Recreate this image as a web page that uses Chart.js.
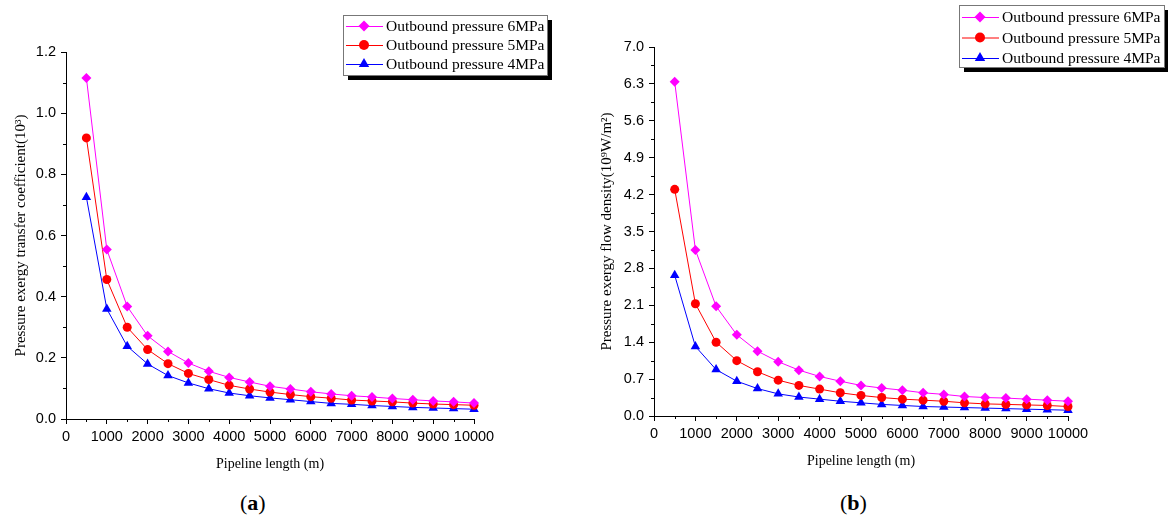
<!DOCTYPE html>
<html>
<head>
<meta charset="utf-8">
<script src="https://cdn.jsdelivr.net/npm/chart.js@4.4.1/dist/chart.umd.min.js"></script>
<style>
  body { margin: 0; background: #fff; width: 1168px; height: 525px; overflow: hidden; position: relative; }
  .panel { position: absolute; top: 0; width: 584px; height: 480px; }
  .cap { position: absolute; top: 490px; font: 22px "Liberation Serif", serif; color: #000; }
</style>
</head>
<body>
<div class="panel" style="left:0"><canvas id="chartA" width="584" height="480"></canvas></div>
<div class="panel" style="left:584px"><canvas id="chartB" width="584" height="480"></canvas></div>
<div class="cap" style="left:240px">(<b>a</b>)</div>
<div class="cap" style="left:840px">(<b>b</b>)</div>
<script>
// ---------------------------------------------------------------------
// DATA
// ---------------------------------------------------------------------
const LENGTHS = [500, 1000, 1500, 2000, 2500, 3000, 3500, 4000, 4500, 5000,
                 5500, 6000, 6500, 7000, 7500, 8000, 8500, 9000, 9500, 10000];

const SERIES = ['Outbound pressure 6MPa', 'Outbound pressure 5MPa', 'Outbound pressure 4MPa'];

// (a) pressure exergy transfer coefficient (10^3)
const COEF_6 = [1.115, 0.554, 0.368, 0.272, 0.221, 0.183, 0.156, 0.136, 0.121, 0.107,
                0.098, 0.089, 0.082, 0.076, 0.072, 0.067, 0.063, 0.059, 0.056, 0.052];
const COEF_5 = [0.919, 0.456, 0.300, 0.227, 0.181, 0.149, 0.129, 0.110, 0.098, 0.088,
                0.080, 0.073, 0.068, 0.062, 0.059, 0.056, 0.052, 0.049, 0.047, 0.045];
const COEF_4 = [0.725, 0.360, 0.238, 0.180, 0.142, 0.118, 0.099, 0.085, 0.076, 0.069,
                0.063, 0.057, 0.051, 0.048, 0.044, 0.041, 0.038, 0.036, 0.034, 0.032];

// (b) pressure exergy flow density (10^9 W/m^2)
const FLUX_6 = [6.34, 3.15, 2.08, 1.54, 1.23, 1.03, 0.87, 0.75, 0.66, 0.58,
                0.53, 0.49, 0.44, 0.41, 0.37, 0.35, 0.34, 0.32, 0.30, 0.28];
const FLUX_5 = [4.30, 2.13, 1.40, 1.05, 0.84, 0.68, 0.58, 0.51, 0.44, 0.39,
                0.35, 0.32, 0.30, 0.28, 0.25, 0.23, 0.22, 0.21, 0.20, 0.18];
const FLUX_4 = [2.67, 1.32, 0.88, 0.66, 0.52, 0.42, 0.36, 0.32, 0.28, 0.25,
                0.22, 0.20, 0.18, 0.17, 0.16, 0.15, 0.14, 0.13, 0.12, 0.11];

const TICKS_X  = [0, 1000, 2000, 3000, 4000, 5000, 6000, 7000, 8000, 9000, 10000];
const TICKS_YA = [0, 0.2, 0.4, 0.6, 0.8, 1.0, 1.2];
const TICKS_YB = [0, 0.7, 1.4, 2.1, 2.8, 3.5, 4.2, 4.9, 5.6, 6.3, 7.0];

// ---------------------------------------------------------------------
// STILE
// ---------------------------------------------------------------------
const COLORS  = ['#ff00ff', '#ff0000', '#0000ff'];
const MARKERS = ['rectRot', 'circle', 'triangle'];
const RADII   = [5, 4.5, 5.5];
const TICK_FONT  = { family: 'Liberation Sans', size: 14.5 };
const XTITLE_FONT = { family: 'Liberation Serif', size: 14 };
const YTITLE_FONT = { family: 'Liberation Serif', size: 15 };

// marker disegnato a mano per la legenda
function marker(ctx, style, x, y, r) {
  ctx.beginPath();
  if (style === 'rectRot') {
    ctx.moveTo(x, y - r); ctx.lineTo(x + r, y); ctx.lineTo(x, y + r); ctx.lineTo(x - r, y);
  } else if (style === 'circle') {
    ctx.arc(x, y, r, 0, Math.PI * 2);
  } else {
    ctx.moveTo(x, y - r); ctx.lineTo(x + r * 0.866, y + r * 0.5); ctx.lineTo(x - r * 0.866, y + r * 0.5);
  }
  ctx.closePath();
  ctx.fill();
}

// tacche minori a metà fra le maggiori + legenda con ombra
const extras = {
  id: 'extras',
  afterDraw(chart, args, opts) {
    const ctx = chart.ctx;
    const xs = chart.scales.x, ys = chart.scales.y;
    const { bottom, left } = chart.chartArea;
    ctx.save();
    ctx.strokeStyle = '#000';
    ctx.lineWidth = 1;
    ctx.beginPath();
    for (let i = 0; i < opts.xTicks.length - 1; i++) {
      const px = Math.round(xs.getPixelForValue((opts.xTicks[i] + opts.xTicks[i + 1]) / 2)) + 0.5;
      ctx.moveTo(px, bottom); ctx.lineTo(px, bottom + 3);
    }
    for (let i = 0; i < opts.yTicks.length - 1; i++) {
      const py = Math.round(ys.getPixelForValue((opts.yTicks[i] + opts.yTicks[i + 1]) / 2)) + 0.5;
      ctx.moveTo(left, py); ctx.lineTo(left - 3, py);
    }
    ctx.stroke();

    // legenda
    const L = opts.legend;
    ctx.fillStyle = '#000';
    ctx.fillRect(L.x + 5, L.y + 5, L.w, L.h);
    ctx.fillStyle = '#fff';
    ctx.fillRect(L.x, L.y, L.w, L.h);
    ctx.strokeStyle = '#777';
    ctx.strokeRect(L.x + 0.5, L.y + 0.5, L.w, L.h);
    ctx.font = '15.5px "Liberation Serif"';
    ctx.textBaseline = 'middle';
    chart.data.datasets.forEach((ds, i) => {
      const cy = L.y + L.first + i * L.step;
      ctx.strokeStyle = ds.borderColor;
      ctx.beginPath();
      ctx.moveTo(L.x + 3, cy + 0.5); ctx.lineTo(L.x + 40, cy + 0.5);
      ctx.stroke();
      ctx.fillStyle = ds.pointBackgroundColor;
      marker(ctx, ds.pointStyle, L.x + 21, cy, ds.pointRadius + 0.5);
      ctx.fillStyle = '#000';
      ctx.fillText(ds.label, L.x + 43, cy + 1);
    });
    ctx.restore();
  }
};

function makeChart(id, series, yTicks, yTitle, cfg) {
  return new Chart(document.getElementById(id), {
    type: 'line',
    data: {
      datasets: series.map((vals, i) => ({
        label: SERIES[i],
        data: LENGTHS.map((x, k) => ({ x, y: vals[k] })),
        borderColor: COLORS[i],
        borderWidth: 1,
        pointStyle: MARKERS[i],
        pointRadius: RADII[i],
        pointBackgroundColor: COLORS[i],
        pointBorderWidth: 0,
        tension: 0,
        clip: false,
      }))
    },
    options: {
      responsive: false,
      animation: false,
      layout: { padding: { left: 0, right: cfg.right, top: cfg.top, bottom: 0 } },
      plugins: {
        legend: { display: false },
        tooltip: { enabled: false },
        extras: { xTicks: TICKS_X, yTicks: yTicks, legend: cfg.legend },
      },
      scales: {
        x: {
          type: 'linear', min: 0, max: 10000,
          afterBuildTicks: s => { s.ticks = TICKS_X.map(v => ({ value: v })); },
          afterFit: s => { s.height = cfg.xHeight; },
          grid: { drawOnChartArea: false, tickLength: 5, tickColor: '#000' },
          border: { color: '#000', width: 1 },
          ticks: { color: '#000', font: TICK_FONT, padding: 4, maxRotation: 0, autoSkip: false,
                   callback: v => String(v) },
          title: { display: true, text: 'Pipeline length (m)', color: '#000', font: XTITLE_FONT,
                   padding: { top: 0, bottom: cfg.xTitlePad } },
        },
        y: {
          min: 0, max: yTicks[yTicks.length - 1],
          afterBuildTicks: s => { s.ticks = yTicks.map(v => ({ value: v })); },
          afterFit: s => { s.width = cfg.yWidth; },
          grid: { drawOnChartArea: false, tickLength: 5, tickColor: '#000' },
          border: { color: '#000', width: 1 },
          ticks: { color: '#000', font: TICK_FONT, padding: 5, autoSkip: false, callback: v => v.toFixed(1) },
          title: { display: true, text: yTitle, color: '#000', font: YTITLE_FONT,
                   padding: { top: cfg.yTitlePad, bottom: 0 } },
        }
      }
    },
    plugins: [extras]
  });
}

makeChart('chartA', [COEF_6, COEF_5, COEF_4], TICKS_YA,
  'Pressure exergy transfer coefficient(10³)',
  { right: 110, top: 52, xHeight: 61, yWidth: 66, xTitlePad: 7, yTitlePad: 12,
    legend: { x: 343, y: 15, w: 204, h: 60, first: 11, step: 19 } });

makeChart('chartB', [FLUX_6, FLUX_5, FLUX_4], TICKS_YB,
  'Pressure exergy flow density(10⁹W/m²)',
  { right: 100, top: 47, xHeight: 64, yWidth: 70, xTitlePad: 10, yTitlePad: 14,
    legend: { x: 375, y: 5, w: 205, h: 62, first: 12, step: 20.5 } });
</script>
</body>
</html>
